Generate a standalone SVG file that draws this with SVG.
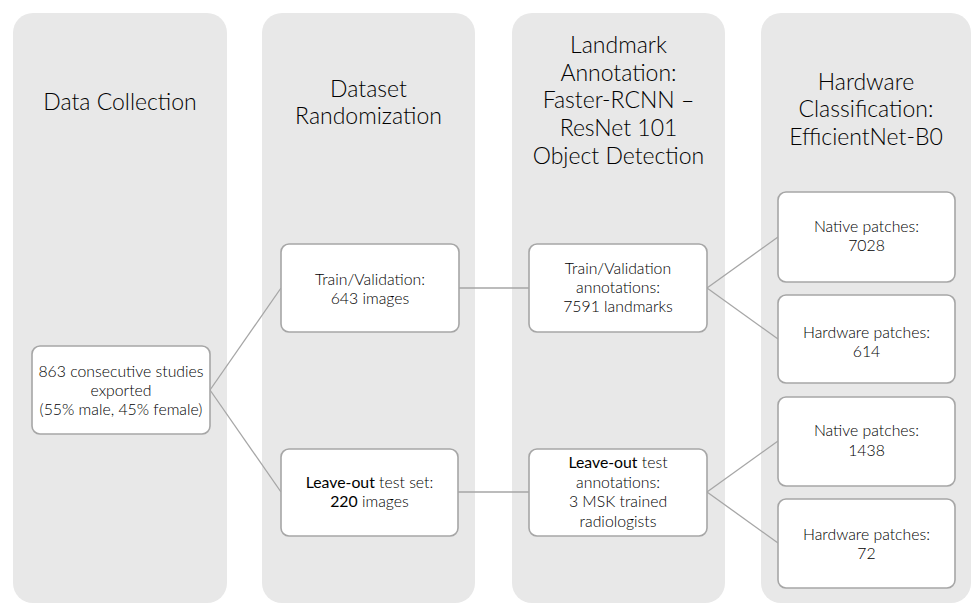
<svg xmlns="http://www.w3.org/2000/svg" width="972" height="605" viewBox="0 0 972 605">
<style>
.col{fill:#e8e8e8;}
.box{fill:#ffffff;stroke:#a6a6a6;stroke-width:1.6;}
.h{font-family:Lato,"Open Sans","Liberation Sans",sans-serif;font-weight:300;font-size:23px;fill:#000000;text-anchor:middle;}
.t{font-family:Lato,"Open Sans","Liberation Sans",sans-serif;font-weight:300;font-size:15.8px;fill:#000000;text-anchor:middle;}
.b{font-weight:400;}
.c{stroke:#a6a6a6;stroke-width:1.3;fill:none;}
</style>
<rect width="972" height="605" fill="#ffffff"/>
<g id="col1"><rect class="col" x="13" y="13" width="214" height="590" rx="20"/><text class="h" x="120" y="110">Data Collection</text></g>
<g id="col2"><rect class="col" x="262" y="13" width="213" height="590" rx="20"/><text class="h" x="368.5" y="97">Dataset</text><text class="h" x="368.5" y="124">Randomization</text></g>
<g id="col3"><rect class="col" x="512" y="13" width="213" height="590" rx="20"/><text class="h" x="618.5" y="53">Landmark</text><text class="h" x="618.5" y="81">Annotation:</text><text class="h" x="618.5" y="108">Faster-RCNN –</text><text class="h" x="618.5" y="136">ResNet 101</text><text class="h" x="618.5" y="164">Object Detection</text></g>
<g id="col4"><rect class="col" x="761" y="13" width="210" height="590" rx="20"/><text class="h" x="866" y="90">Hardware</text><text class="h" x="866" y="117">Classification:</text><text class="h" x="866" y="145">EfficientNet-B0</text></g>
<g id="connectors">
<line class="c" x1="210" y1="390" x2="281" y2="288"/>
<line class="c" x1="210" y1="390" x2="281" y2="492"/>
<line class="c" x1="459" y1="288" x2="529" y2="288"/>
<line class="c" x1="458" y1="492" x2="529" y2="492"/>
<line class="c" x1="707" y1="288" x2="778" y2="237"/>
<line class="c" x1="707" y1="288" x2="778" y2="339"/>
<line class="c" x1="707" y1="492" x2="778" y2="441"/>
<line class="c" x1="707" y1="492" x2="778" y2="543"/>
</g>
<g id="n863"><rect class="box" x="32" y="346" width="178" height="88" rx="8"/><text class="t" x="121" y="377">863 consecutive studies</text><text class="t" x="121" y="396">exported</text><text class="t" x="121" y="415">(55% male, 45% female)</text></g>
<g id="nTrain"><rect class="box" x="281" y="244" width="178" height="88" rx="8"/><text class="t" x="370" y="285">Train/Validation:</text><text class="t" x="370" y="304">643 images</text></g>
<g id="nLeave"><rect class="box" x="281" y="449" width="177" height="87" rx="8"/><text class="t" x="369.5" y="488"><tspan class="b">Leave-out</tspan> test set:</text><text class="t" x="369.5" y="507"><tspan class="b">220</tspan> images</text></g>
<g id="nTrainAnn"><rect class="box" x="529" y="244" width="178" height="88" rx="8"/><text class="t" x="618" y="274">Train/Validation</text><text class="t" x="618" y="293">annotations:</text><text class="t" x="618" y="312">7591 landmarks</text></g>
<g id="nLeaveAnn"><rect class="box" x="529" y="449" width="178" height="87" rx="8"/><text class="t" x="618" y="468"><tspan class="b">Leave-out</tspan> test</text><text class="t" x="618" y="488">annotations:</text><text class="t" x="618" y="507">3 MSK trained</text><text class="t" x="618" y="527">radiologists</text></g>
<g id="nNative1"><rect class="box" x="778" y="192" width="177" height="90" rx="8"/><text class="t" x="866.5" y="232">Native patches:</text><text class="t" x="866.5" y="251">7028</text></g>
<g id="nHw1"><rect class="box" x="778" y="295" width="177" height="88" rx="8"/><text class="t" x="866.5" y="338">Hardware patches:</text><text class="t" x="866.5" y="357">614</text></g>
<g id="nNative2"><rect class="box" x="778" y="397" width="177" height="89" rx="8"/><text class="t" x="866.5" y="436">Native patches:</text><text class="t" x="866.5" y="456">1438</text></g>
<g id="nHw2"><rect class="box" x="778" y="499" width="177" height="89" rx="8"/><text class="t" x="866.5" y="540">Hardware patches:</text><text class="t" x="866.5" y="559">72</text></g>
</svg>
